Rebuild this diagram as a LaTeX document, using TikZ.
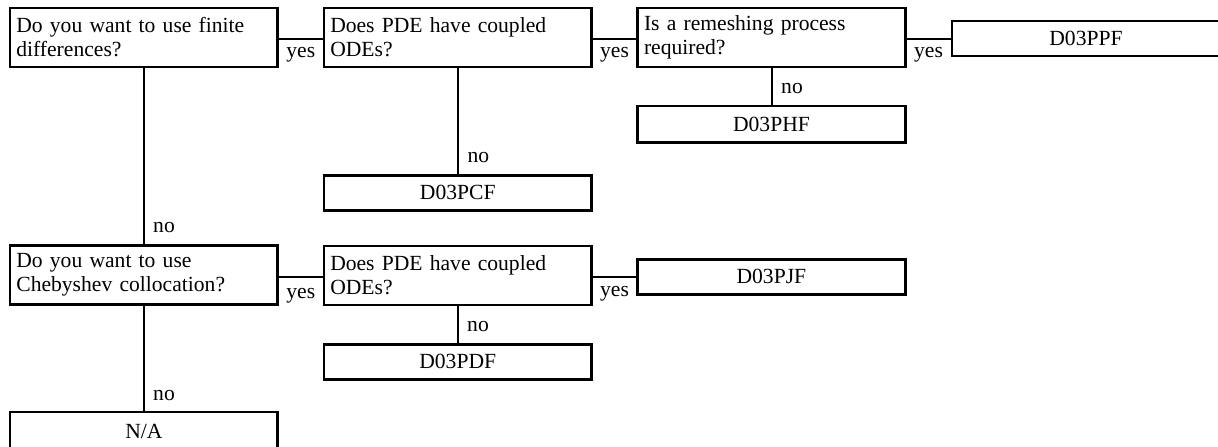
\documentclass[tikz,border=0pt]{standalone}
\usepackage{fontspec}
\setmainfont{Liberation Serif}[WordSpace=1.6]
\newcommand{\qfont}{\fontsize{21.6pt}{24pt}\selectfont}
\begin{document}
\begin{tikzpicture}[x=1pt,y=-1pt,
  box/.style={draw, line width=2.6pt, inner sep=0pt, outer sep=0pt},
  qbox/.style={box, minimum width=267.7pt, minimum height=59pt, text width=255pt, align=left, font=\qfont},
  abox/.style={box, minimum width=267.7pt, minimum height=35pt, font=\qfont},
  conn/.style={line width=2pt},
  lab/.style={font=\qfont, inner sep=0pt}]
\useasboundingbox (0,0) rectangle (1218,447);
\clip (0,0) rectangle (1218,447);
% boxes
\node[qbox] (q1) at (143.85,37.5) {Do you want to use finite\\differences?};
\node[qbox] (q2) at (457.75,37.5) {Does PDE have coupled\\ODEs?};
\node[qbox] (q3) at (771.5,37.5) {Is a remeshing process\\required?};
\node[abox, minimum width=268pt] (ppf) at (1086,38.5) {D03PPF};
\node[abox, minimum height=36.5pt] (phf) at (771.5,124.3) {D03PHF};
\node[abox] (pcf) at (457.75,192.8) {D03PCF};
\node[qbox] (q5) at (143.85,275) {Do you want to use\\Chebyshev collocation?};
\node[qbox] (q6) at (457.75,275.5) {Does PDE have coupled\\ODEs?};
\node[abox] (pjf) at (771.4,276.8) {D03PJF};
\node[abox] (pdf) at (457.75,361.7) {D03PDF};
\node[abox, minimum height=38pt] (na) at (143.85,431) {N/A};
% connectors
\draw[conn] (q1.east |- ppf) -- (q2.west |- ppf);
\draw[conn] (q2.east |- ppf) -- (q3.west |- ppf);
\draw[conn] (q3.east |- ppf) -- (ppf.west);
\draw[conn] (q5.east |- pjf) -- (q6.west |- pjf);
\draw[conn] (q6.east |- pjf) -- (pjf.west);
\draw[conn] (q1.south) -- (q5.north);
\draw[conn] (q2.south) -- (pcf.north);
\draw[conn] (q3.south) -- (phf.north);
\draw[conn] (q6.south) -- (pdf.north);
\draw[conn] (q5.south) -- (na.north);
% labels
\node[lab, anchor=base] (y1) at (300.8,57.5) {yes};
\node[lab, anchor=base] (y2) at (614.5,57.5) {yes};
\node[lab, anchor=base] (y3) at (928.5,57.5) {yes};
\node[lab, anchor=base] (y4) at (300.8,298) {yes};
\node[lab, anchor=base] (y5) at (614.5,296) {yes};
\node[lab, anchor=base west] (n1) at (153,232) {no};
\node[lab, anchor=base west] (n2) at (467.3,162) {no};
\node[lab, anchor=base west] (n3) at (781,93) {no};
\node[lab, anchor=base west] (n4) at (467,331) {no};
\node[lab, anchor=base west] (n5) at (153,400.7) {no};
\end{tikzpicture}
\end{document}
